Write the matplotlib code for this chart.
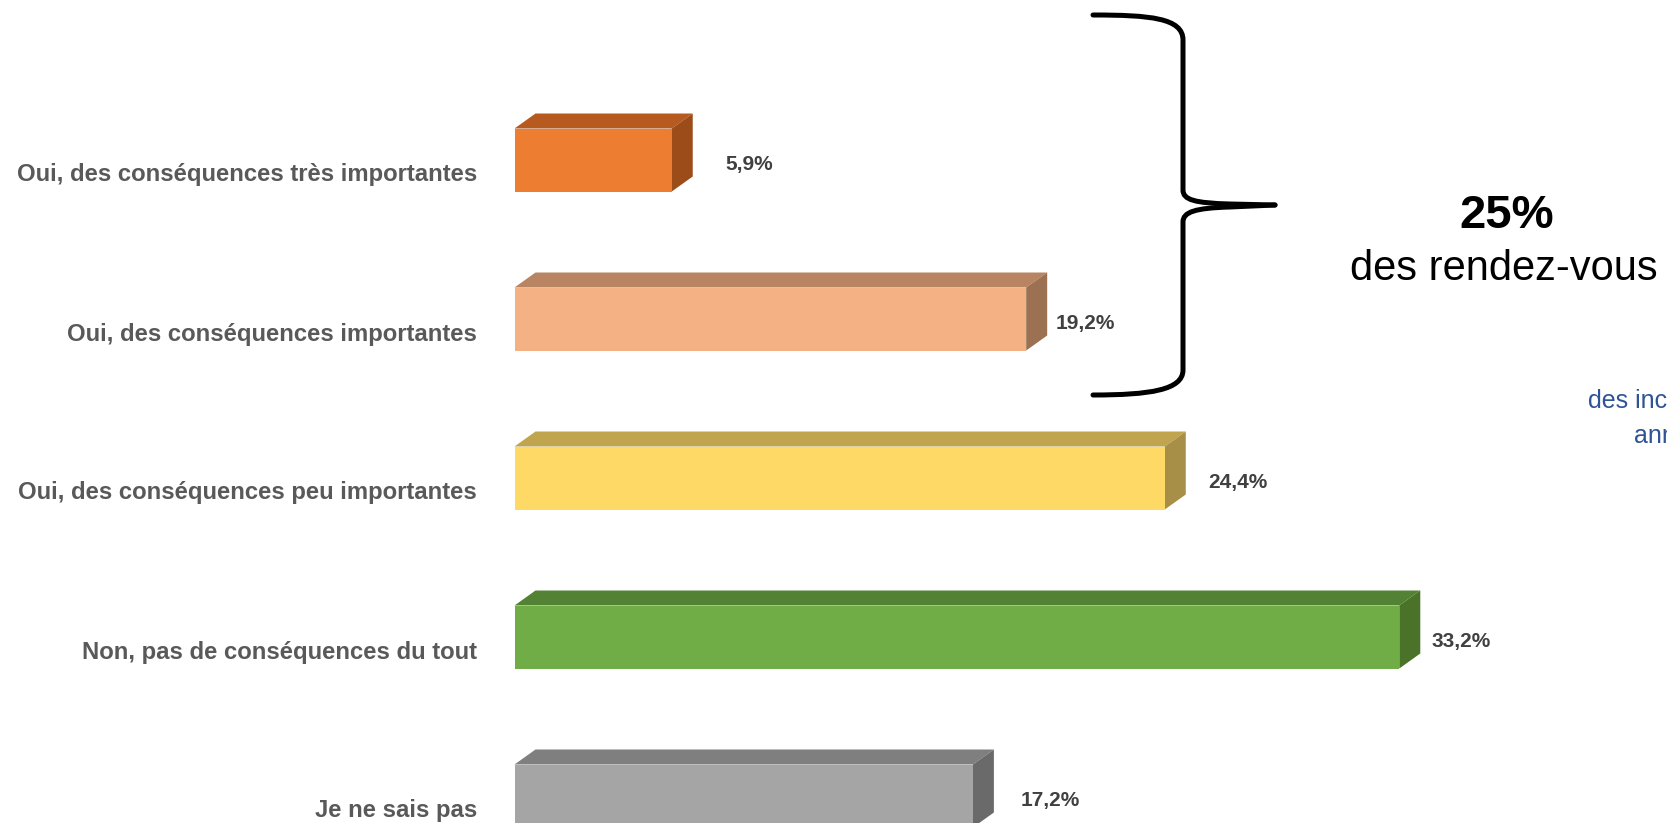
import matplotlib.pyplot as plt
from matplotlib.path import Path
from matplotlib.patches import PathPatch, Polygon
import numpy as np

plt.rcParams['font.family'] = ['Liberation Sans', 'DejaVu Sans']

# données
categories = ['Oui, des conséquences très importantes',
              'Oui, des conséquences importantes',
              'Oui, des conséquences peu importantes',
              'Non, pas de conséquences du tout',
              'Je ne sais pas']
values = [5.9, 19.2, 24.4, 33.2, 17.2]
value_labels = ['5,9%', '19,2%', '24,4%', '33,2%', '17,2%']
front_colors = ['#ED7D31', '#F4B183', '#FFD966', '#70AD47', '#A5A5A5']
top_colors = ['#B65A20', '#B98461', '#C1A44E', '#548235', '#7F7F7F']
side_colors = ['#9C4C19', '#9B7152', '#A88F48', '#4A7329', '#6A6A6A']
# écart (px) entre la fin de la barre et son étiquette, comme sur l'original
label_gap_px = [54, 29, 43, 32, 48]

W, H = 1667, 823
fig = plt.figure(figsize=(W / 100, H / 100), dpi=100)

# axe principal : x en %, y = rang de la catégorie
px_per_pct = 26.65
x0 = 514.5
row_px = 159.0
first_px = 160.0
ax = fig.add_axes([0, 0, 1, 1])
ax.set_xlim(-x0 / px_per_pct, (W - x0) / px_per_pct)
ax.set_ylim((H - first_px) / row_px, -first_px / row_px)
ax.axis('off')

y = np.arange(len(values))
bar_h = 63 / row_px
dx = 21 / px_per_pct
dy = 15 / row_px

ax.barh(y, values, height=bar_h, left=0, color=front_colors, linewidth=0, zorder=3)
for i, v in enumerate(values):
    top = y[i] - bar_h / 2
    bot = y[i] + bar_h / 2
    # face du dessus
    ax.add_patch(Polygon([(0, top), (dx, top - dy), (v + dx, top - dy), (v, top)],
                         closed=True, facecolor=top_colors[i], linewidth=0, zorder=2))
    # face de côté
    ax.add_patch(Polygon([(v, top), (v + dx, top - dy), (v + dx, bot - dy), (v, bot)],
                         closed=True, facecolor=side_colors[i], linewidth=0, zorder=2))
    ax.text(v + label_gap_px[i] / px_per_pct, y[i] + 10 / row_px, value_labels[i],
            fontsize=15, fontweight='bold', color='#404040', ha='left', va='baseline')
    ax.text(-37.5 / px_per_pct, y[i] + 21.5 / row_px, categories[i],
            fontsize=17.2, fontweight='bold', color='#595959', ha='right', va='baseline')

# calque en pixels pour l'accolade et les textes de droite
ov = fig.add_axes([0, 0, 1, 1])
ov.set_xlim(0, W)
ov.set_ylim(H, 0)
ov.axis('off')
ov.patch.set_alpha(0)

upper = Path([(1093, 15), (1150, 15), (1183, 18), (1183, 40),
              (1183, 190), (1183, 200), (1195, 203), (1230, 204), (1275, 205)],
             [Path.MOVETO, Path.CURVE4, Path.CURVE4, Path.CURVE4,
              Path.LINETO, Path.CURVE4, Path.CURVE4, Path.CURVE4, Path.LINETO])
lower = Path([(1275, 205), (1230, 207), (1195, 208), (1183, 212), (1183, 222),
              (1183, 370), (1183, 390), (1150, 395), (1093, 395)],
             [Path.MOVETO, Path.LINETO, Path.CURVE4, Path.CURVE4, Path.CURVE4,
              Path.LINETO, Path.CURVE4, Path.CURVE4, Path.CURVE4])
for p in (upper, lower):
    ov.add_patch(PathPatch(p, facecolor='none', edgecolor='black', linewidth=3.6,
                           capstyle='round', joinstyle='round'))

ov.text(1507, 228, '25%', fontsize=34, fontweight='bold', color='black',
        ha='center', va='baseline')
ov.text(1504, 280, 'des rendez-vous', fontsize=30, color='black',
        ha='center', va='baseline')
# texte bleu coupé au bord droit, comme sur l'original
ov.text(1588, 408, 'des inc', fontsize=18, color='#2F5496', ha='left', va='baseline')
ov.text(1634, 443, 'ann', fontsize=18, color='#2F5496', ha='left', va='baseline')

fig.savefig('out.png', dpi=100)
